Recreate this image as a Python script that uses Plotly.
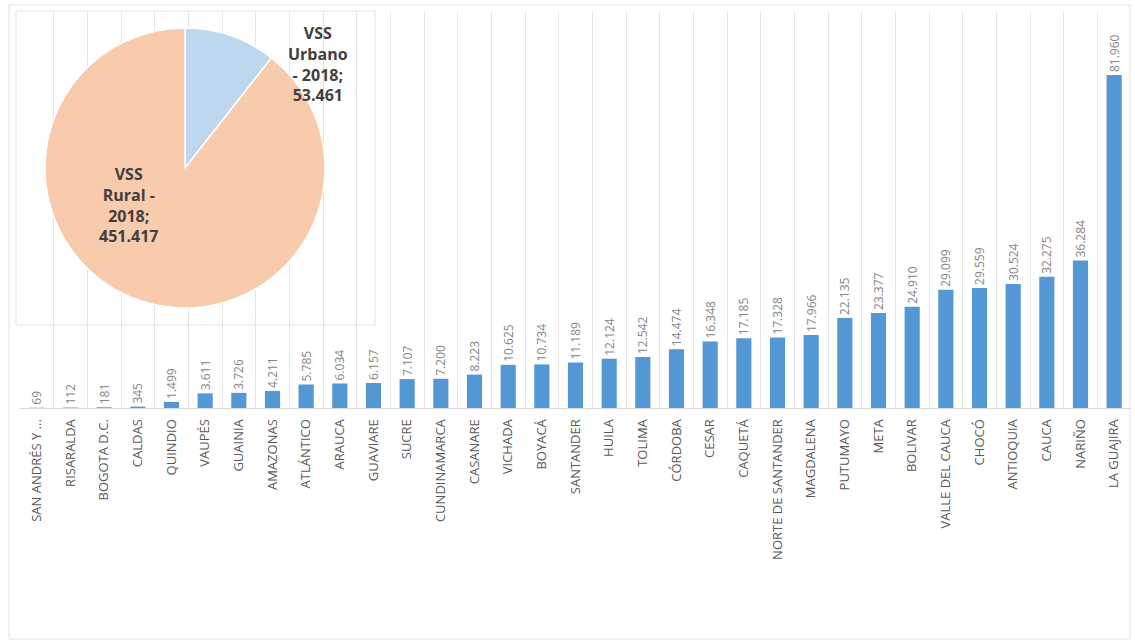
import plotly.graph_objects as go

# ---- data ----
departamentos = ["SAN ANDRÉS Y ...", "RISARALDA", "BOGOTA D.C.", "CALDAS", "QUINDIO", "VAUPÉS",
                 "GUAINIA", "AMAZONAS", "ATLÁNTICO", "ARAUCA", "GUAVIARE", "SUCRE",
                 "CUNDINAMARCA", "CASANARE", "VICHADA", "BOYACÁ", "SANTANDER", "HUILA",
                 "TOLIMA", "CÓRDOBA", "CESAR", "CAQUETÁ", "NORTE DE SANTANDER", "MAGDALENA",
                 "PUTUMAYO", "META", "BOLIVAR", "VALLE DEL CAUCA", "CHOCÓ", "ANTIOQUIA",
                 "CAUCA", "NARIÑO", "LA GUAJIRA"]
vss = [69, 112, 181, 345, 1499, 3611, 3726, 4211, 5785, 6034, 6157, 7107,
       7200, 8223, 10625, 10734, 11189, 12124, 12542, 14474, 16348, 17185, 17328, 17966,
       22135, 23377, 24910, 29099, 29559, 30524, 32275, 36284, 81960]

pie_labels = ["VSS Urbano - 2018", "VSS Rural - 2018"]
pie_values = [53461, 451417]
pie_colors = ["#bdd7ee", "#f8cbad"]

W, H = 1135, 642
L, R, T, B = 20, 4, 12, 234
pw, ph = W - L - R, H - T - B


def px(x):
    return (x - L) / pw


def py(y):
    return (H - B - y) / ph


fig = go.Figure()
fig.add_trace(go.Bar(
    x=departamentos, y=vss,
    marker=dict(color="#5397d5", line=dict(width=0)),
    texttemplate="%{y:,}", textposition="outside", textangle=-90,
    constraintext="none", cliponaxis=False,
    textfont=dict(family="Open Sans", size=12, color="#858585"),
    hoverinfo="skip", showlegend=False,
))

fig.add_trace(go.Pie(
    labels=pie_labels, values=pie_values, sort=False, direction="clockwise",
    rotation=0, textinfo="none", hoverinfo="skip", showlegend=False,
    marker=dict(colors=pie_colors, line=dict(color="white", width=1.5)),
    domain=dict(x=[px(45), px(325)], y=[py(308), py(28)]),
))


def fmt(v):
    return f"{v:,}".replace(",", ".")


def split_label(lbl):
    a, b = lbl.split(" - ")
    w = a.split(" ")
    return w, b


wu, bu = split_label(pie_labels[0])
wr, br = split_label(pie_labels[1])
urb_text = f"{wu[0]}<br>{wu[1]}<br>- {bu};<br>{fmt(pie_values[0])}"
rur_text = f"{wr[0]}<br>{wr[1]} -<br>{br};<br>{fmt(pie_values[1])}"

ann_font = dict(family="Open Sans", size=16, color="#404040", weight="bold")
fig.add_annotation(x=px(318), y=py(64), xref="paper", yref="paper", text=urb_text,
                   showarrow=False, font=ann_font, align="center",
                   xanchor="center", yanchor="middle")
fig.add_annotation(x=px(128), y=py(205), xref="paper", yref="paper", text=rur_text,
                   showarrow=False, font=ann_font, align="center",
                   xanchor="center", yanchor="middle")

# pie chart box and outer chart frame
fig.add_shape(type="rect", xref="paper", yref="paper",
              x0=px(16), x1=px(375), y0=py(325), y1=py(11),
              line=dict(color="#e3e3e3", width=1), fillcolor="rgba(0,0,0,0)", layer="above")
fig.add_shape(type="rect", xref="paper", yref="paper",
              x0=px(9), x1=px(1130), y0=py(639), y1=py(5),
              line=dict(color="#e3e3e3", width=1), fillcolor="rgba(0,0,0,0)")

fig.update_layout(
    width=W, height=H,
    margin=dict(l=L, r=R, t=T, b=B),
    paper_bgcolor="white", plot_bgcolor="white",
    separators=",.",
    bargap=0.55,
    font=dict(family="Open Sans", color="#595959"),
    xaxis=dict(
        type="category", tickangle=-90, tickson="boundaries",
        showgrid=True, gridcolor="#e4e4e4", gridwidth=1,
        ticks="", showline=True, linecolor="#d9d9d9", linewidth=1,
        tickfont=dict(family="Open Sans", size=13, color="#595959"),
        ticklabelstandoff=5, fixedrange=True, automargin=False,
    ),
    yaxis=dict(range=[0, 97466], showticklabels=False, showgrid=False,
               zeroline=False, showline=False, fixedrange=True),
)

fig.write_html(
    "out.html",
    config={"displayModeBar": False, "staticPlot": True},
    post_script="document.body.style.margin='0';document.body.style.overflow='hidden';",
)
